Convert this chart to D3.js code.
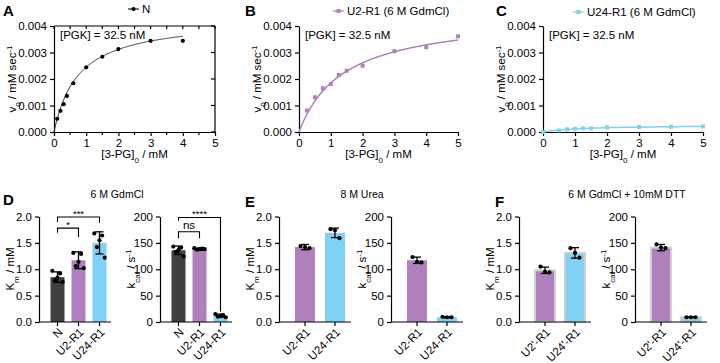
<!DOCTYPE html>
<html>
<head>
<meta charset="utf-8">
<script src="https://cdn.jsdelivr.net/npm/d3@7"></script>
<style>
body { margin: 0; background: #fff; }
svg { display: block; font-family: "Liberation Sans", Arial, sans-serif; }
.axis path, .axis line { stroke: #000; stroke-width: 1.2; }
.axis text { font-size: 11.5px; fill: #000; font-family: "Liberation Sans", Arial, sans-serif; }
</style>
</head>
<body>
<div id="content"></div>
<script>
//////////////////// data
const xTicks = [0, 1, 2, 3, 4, 5];
const yTicksRate = [0, 0.001, 0.002, 0.003, 0.004];

// A: native PGK
const substrateA = [0.1, 0.2, 0.3, 0.4, 0.6, 1.0, 1.5, 2.0, 3.0, 4.0];
const rateA = [0.0005, 0.0008, 0.00105, 0.00136, 0.00184, 0.00244, 0.00284, 0.00313, 0.00344, 0.00344];
const fitA = { vmax: 0.0043, km: 0.76, xmax: 4 };

// B: U2-R1 (6 M GdmCl)
const substrateB = [0.25, 0.5, 0.75, 1.0, 1.25, 1.5, 2.0, 3.0, 4.0, 5.0];
const rateB = [0.00081, 0.00131, 0.00165, 0.00181, 0.00215, 0.00231, 0.0025, 0.00305, 0.0032, 0.00361];
const fitB = { vmax: 0.00444, km: 1.4, xmax: 5 };

// C: U24-R1 (6 M GdmCl)
const substrateC = [0, 0.5, 0.75, 1.0, 1.25, 1.5, 2.0, 3.0, 4.0, 5.0];
const rateC = [0, 0.00006, 0.0001, 0.000125, 0.00014, 0.00014, 0.000175, 0.00019, 0.0002, 0.00021];
const fitC = { vmax: 0.00026, km: 1.2, xmax: 5 };

// D: 6 M GdmCl
const catsD = ["N", "U2-R1", "U24-R1"];
const kmMeanD = [0.85, 1.17, 1.50];
const kmSdD = [0.10, 0.16, 0.21];
const kmPtsD = [[0.97, 0.92, 0.84, 0.79, 0.76], [1.31, 1.29, 1.14, 1.06, 1.02], [1.68, 1.64, 1.55, 1.42, 1.22]];
const kcatMeanD = [136, 138, 12];
const kcatSdD = [8, 2, 3];
const kcatPtsD = [[143, 141, 137, 133, 124], [140, 139, 138, 137, 138], [15, 13, 11, 10, 9]];

// E: 8 M Urea
const catsE = ["U2-R1", "U24-R1"];
const kmMeanE = [1.42, 1.69];
const kmSdE = [0.05, 0.09];
const kmPtsE = [[1.44, 1.42, 1.40], [1.76, 1.74, 1.59]];
const kcatMeanE = [117, 9];
const kcatSdE = [6, 1];
const kcatPtsE = [[123, 114, 113], [10, 9, 9]];

// F: 6 M GdmCl + 10mM DTT
const catsF = ["U2'-R1", "U24'-R1"];
const kmMeanF = [0.98, 1.31];
const kmSdF = [0.06, 0.10];
const kmPtsF = [[1.05, 0.95, 0.94], [1.40, 1.31, 1.22]];
const kcatMeanF = [141, 9];
const kcatSdF = [6, 0.5];
const kcatPtsF = [[147, 141, 140], [9, 9, 9]];

// significance brackets in D
const sigKmD = [
    { a: 0, b: 2, y: 1.99, dropA: 1.90, dropB: 1.88, label: "***" },
    { a: 0, b: 1, y: 1.78, dropA: 1.69, dropB: 1.61, label: "*" }
];
const sigKcatD = [
    { a: 0, b: 2, y: 198, dropA: 192, dropB: 20, label: "****" },
    { a: 0, b: 1, y: 171, dropA: 159, dropB: 159, label: "ns" }
];

//////////////////// colours
const colN = "#404040", colU2 = "#b07fbe", colU24 = "#7fd2f4";
const colorByCat = { "N": colN, "U2-R1": colU2, "U24-R1": colU24, "U2'-R1": colU2, "U24'-R1": colU24 };
const FS = 11.5, FS_SMALL = 8;

//////////////////// svg
const W = 720, H = 363;
const svg = d3.select("#content").append("svg")
    .attr("width", W).attr("height", H);
svg.append("rect").attr("width", W).attr("height", H).attr("fill", "#fff");

function letter(txt, x, y) {
    svg.append("text").attr("x", x).attr("y", y).text(txt)
        .attr("font-size", 15).attr("font-weight", "bold");
}

function rateLabel(g, x, y) {
    const t = g.append("text").attr("transform", "translate(" + x + "," + y + ")rotate(-90)")
        .attr("text-anchor", "middle").attr("font-size", FS);
    t.append("tspan").text("v");
    t.append("tspan").text("0").attr("font-size", FS_SMALL).attr("baseline-shift", "sub");
    t.append("tspan").text(" / mM sec");
    t.append("tspan").text("-1").attr("font-size", FS_SMALL).attr("baseline-shift", "super");
}

function substrateLabel(g, x, y) {
    const t = g.append("text").attr("x", x).attr("y", y)
        .attr("text-anchor", "middle").attr("font-size", FS);
    t.append("tspan").text("[3-PG]");
    t.append("tspan").text("0").attr("font-size", FS_SMALL).attr("baseline-shift", "sub");
    t.append("tspan").text(" / mM");
}

function kineticPanel(p) {
    const g = svg.append("g");
    const x = d3.scaleLinear().domain([0, 5]).range([p.x0, p.x1]);
    const y = d3.scaleLinear().domain([0, 0.004]).range([132, 26]);

    g.append("g").attr("class", "axis").attr("transform", "translate(0,132)")
        .call(d3.axisBottom(x).tickValues(xTicks).tickFormat(d3.format("d")).tickSize(4).tickSizeOuter(0));
    g.append("g").attr("class", "axis").attr("transform", "translate(" + p.x0 + ",0)")
        .call(d3.axisLeft(y).tickValues(yTicksRate).tickFormat(d3.format(".3f")).tickSize(4).tickSizeOuter(0));

    if (p.boxed) {
        const halves = d3.range(0, 5.01, 0.5);
        // minor ticks under the x axis
        g.selectAll(".minor").data(halves.filter(d => d % 1 !== 0)).enter().append("line")
            .attr("x1", d => x(d)).attr("x2", d => x(d)).attr("y1", 132).attr("y2", 135)
            .attr("stroke", "#000").attr("stroke-width", 1.2);
        // frame top and right with inward ticks
        g.append("line").attr("x1", p.x0).attr("x2", p.x1).attr("y1", y(0.004)).attr("y2", y(0.004))
            .attr("stroke", "#000").attr("stroke-width", 1.2);
        g.append("line").attr("x1", p.x1).attr("x2", p.x1).attr("y1", y(0.004)).attr("y2", y(0))
            .attr("stroke", "#000").attr("stroke-width", 1.2);
        g.selectAll(".topTick").data(halves).enter().append("line")
            .attr("x1", d => x(d)).attr("x2", d => x(d)).attr("y1", y(0.004)).attr("y2", y(0.004) + 3)
            .attr("stroke", "#000").attr("stroke-width", 1.2);
        g.selectAll(".rightTick").data(yTicksRate).enter().append("line")
            .attr("x1", p.x1 - 4).attr("x2", p.x1).attr("y1", d => y(d)).attr("y2", d => y(d))
            .attr("stroke", "#000").attr("stroke-width", 1.2);
    }

    // Michaelis-Menten fit
    const fit = p.fit;
    const curve = d3.range(0, fit.xmax + 1e-9, 0.02).map(s => [s, fit.vmax * s / (fit.km + s)]);
    g.append("path").datum(curve)
        .attr("d", d3.line().x(d => x(d[0])).y(d => y(d[1])))
        .attr("fill", "none").attr("stroke", p.lineColor).attr("stroke-width", p.lineWidth);

    const pts = p.xs.map((s, i) => ({ s: s, v: p.ys[i] }));
    if (p.marker === "circle") {
        g.selectAll(".pt").data(pts).enter().append("circle")
            .attr("cx", d => x(d.s)).attr("cy", d => y(d.v)).attr("r", 2.1).attr("fill", p.color);
    } else {
        g.selectAll(".pt").data(pts).enter().append("rect")
            .attr("x", d => x(d.s) - 2).attr("y", d => y(d.v) - 2)
            .attr("width", 4).attr("height", 4).attr("fill", p.color);
    }

    // legend
    g.append("line").attr("x1", p.legX).attr("x2", p.legX + 11).attr("y1", p.legY).attr("y2", p.legY)
        .attr("stroke", p.lineColor).attr("stroke-width", 1.3);
    if (p.marker === "circle") {
        g.append("circle").attr("cx", p.legX + 5.5).attr("cy", p.legY).attr("r", 2.1).attr("fill", p.color);
    } else {
        g.append("rect").attr("x", p.legX + 3.5).attr("y", p.legY - 2).attr("width", 4).attr("height", 4).attr("fill", p.color);
    }
    g.append("text").attr("x", p.legX + 14).attr("y", p.legY + 4).attr("font-size", FS).text(p.legend);

    g.append("text").attr("x", p.x0 + 6).attr("y", 38.5).attr("font-size", FS).text("[PGK] = 32.5 nM");
    rateLabel(g, p.x0 - 38, 79);
    substrateLabel(g, (p.x0 + p.x1) / 2, 158);
}

kineticPanel({ x0: 54, x1: 215, boxed: true, fit: fitA, xs: substrateA, ys: rateA,
    marker: "circle", color: "#000", lineColor: "#333", lineWidth: 1,
    legX: 128, legY: 9, legend: "N" });
kineticPanel({ x0: 299, x1: 458, boxed: false, fit: fitB, xs: substrateB, ys: rateB,
    marker: "square", color: colU2, lineColor: colU2, lineWidth: 1.5,
    legX: 333, legY: 11, legend: "U2-R1 (6 M GdmCl)" });
kineticPanel({ x0: 543, x1: 703, boxed: false, fit: fitC, xs: substrateC, ys: rateC,
    marker: "square", color: colU24, lineColor: colU24, lineWidth: 1.5,
    legX: 573, legY: 12, legend: "U24-R1 (6 M GdmCl)" });

letter("A", 3, 16);
letter("B", 245, 16);
letter("C", 496, 16);

//////////////////// bar panels
function barPanel(p) {
    const g = svg.append("g");
    const n = p.cats.length;
    const step = n === 3 ? 21 : 30;
    const off = n === 3 ? 18.5 : 26;
    const bw = n === 3 ? 14 : 20;
    const xEnd = p.x0 + 72;
    const cx = i => p.x0 + off + i * step;
    const y = d3.scaleLinear().domain([0, p.max]).range([322, 216.5]);

    const rows = p.cats.map((c, i) => ({ c: c, i: i, m: p.mean[i], sd: p.sd[i], pts: p.pts[i] }));

    g.selectAll(".bar").data(rows).enter().append("rect")
        .attr("x", d => cx(d.i) - bw / 2).attr("width", bw)
        .attr("y", d => y(d.m)).attr("height", d => y(0) - y(d.m))
        .attr("fill", d => colorByCat[d.c])
        .attr("stroke", p.outline ? "#d0d0d0" : "none").attr("stroke-width", p.outline ? 2 : 0);

    // points
    rows.forEach(d => {
        const k = d.pts.length;
        const spread = k > 3 ? 2.6 : 4.5;
        g.selectAll(null).data(d.pts).enter().append("circle")
            .attr("cx", (v, j) => cx(d.i) + (j - (k - 1) / 2) * spread * (j % 2 ? -1 : 1))
            .attr("cy", v => y(v)).attr("r", 2.1).attr("fill", "#000");
    });

    // error bars (mean +/- SD)
    rows.forEach(d => {
        const x = cx(d.i);
        g.append("line").attr("x1", x).attr("x2", x).attr("y1", y(d.m - d.sd)).attr("y2", y(d.m + d.sd))
            .attr("stroke", "#000").attr("stroke-width", 1.3);
        [d.m - d.sd, d.m + d.sd].forEach(v => {
            g.append("line").attr("x1", x - 4).attr("x2", x + 4).attr("y1", y(v)).attr("y2", y(v))
                .attr("stroke", "#000").attr("stroke-width", 1.3);
        });
    });

    // axes
    g.append("g").attr("class", "axis").attr("transform", "translate(" + p.x0 + ",0)")
        .call(d3.axisLeft(y).tickValues(d3.range(0, p.max + 1e-9, p.max / 4))
            .tickFormat(d3.format(p.fmt)).tickSize(4).tickSizeOuter(0));
    g.append("line").attr("x1", p.x0).attr("x2", xEnd).attr("y1", 322).attr("y2", 322)
        .attr("stroke", "#000").attr("stroke-width", 1.2);
    g.selectAll(".xt").data(rows).enter().append("line")
        .attr("x1", d => cx(d.i)).attr("x2", d => cx(d.i)).attr("y1", 322).attr("y2", 326)
        .attr("stroke", "#000").attr("stroke-width", 1.2);
    g.selectAll(".xl").data(rows).enter().append("text")
        .attr("transform", d => "translate(" + (cx(d.i) + 3) + ",330)rotate(-45)")
        .attr("text-anchor", "end").attr("dy", "0.35em").attr("font-size", FS).text(d => d.c);

    // y label
    const t = g.append("text").attr("transform", "translate(" + (p.x0 - 25) + ",269)rotate(-90)")
        .attr("text-anchor", "middle").attr("font-size", FS);
    t.append("tspan").text(p.yLabel[0]);
    t.append("tspan").text(p.yLabel[1]).attr("font-size", FS_SMALL).attr("baseline-shift", "sub");
    t.append("tspan").text(p.yLabel[2]);
    if (p.yLabel[3]) t.append("tspan").text(p.yLabel[3]).attr("font-size", FS_SMALL).attr("baseline-shift", "super");

    // significance brackets
    (p.sig || []).forEach(s => {
        const xa = cx(s.a), xb = cx(s.b);
        g.append("path")
            .attr("d", "M" + xa + "," + y(s.dropA) + "V" + y(s.y) + "H" + xb + "V" + y(s.dropB))
            .attr("fill", "none").attr("stroke", "#000").attr("stroke-width", 1.1);
        g.append("text").attr("x", (xa + xb) / 2).attr("y", y(s.y) - (s.label === "ns" ? 2.5 : 0.5))
            .attr("text-anchor", "middle").attr("font-size", s.label === "ns" ? FS : 9.5).text(s.label);
    });
}

const kmLabel = ["K", "m", " / mM"];
const kcatLabel = ["k", "cat", " / s", "-1"];

barPanel({ x0: 39, cats: catsD, mean: kmMeanD, sd: kmSdD, pts: kmPtsD, max: 2, fmt: ".1f", yLabel: kmLabel, sig: sigKmD });
barPanel({ x0: 160, cats: catsD, mean: kcatMeanD, sd: kcatSdD, pts: kcatPtsD, max: 200, fmt: "d", yLabel: kcatLabel, sig: sigKcatD });
barPanel({ x0: 279, cats: catsE, mean: kmMeanE, sd: kmSdE, pts: kmPtsE, max: 2, fmt: ".1f", yLabel: kmLabel });
barPanel({ x0: 391, cats: catsE, mean: kcatMeanE, sd: kcatSdE, pts: kcatPtsE, max: 200, fmt: "d", yLabel: kcatLabel });
barPanel({ x0: 519, cats: catsF, mean: kmMeanF, sd: kmSdF, pts: kmPtsF, max: 2, fmt: ".1f", yLabel: kmLabel, outline: true });
barPanel({ x0: 635, cats: catsF, mean: kcatMeanF, sd: kcatSdF, pts: kcatPtsF, max: 200, fmt: "d", yLabel: kcatLabel, outline: true });

letter("D", 3, 205);
letter("E", 245, 207);
letter("F", 495, 207);

svg.append("text").attr("x", 117).attr("y", 198).attr("text-anchor", "middle").attr("font-size", 10.5).text("6 M GdmCl");
svg.append("text").attr("x", 362).attr("y", 198).attr("text-anchor", "middle").attr("font-size", 10.5).text("8 M Urea");
svg.append("text").attr("x", 627).attr("y", 198).attr("text-anchor", "middle").attr("font-size", 10.5).text("6 M GdmCl + 10mM DTT");
</script>
</body>
</html>
